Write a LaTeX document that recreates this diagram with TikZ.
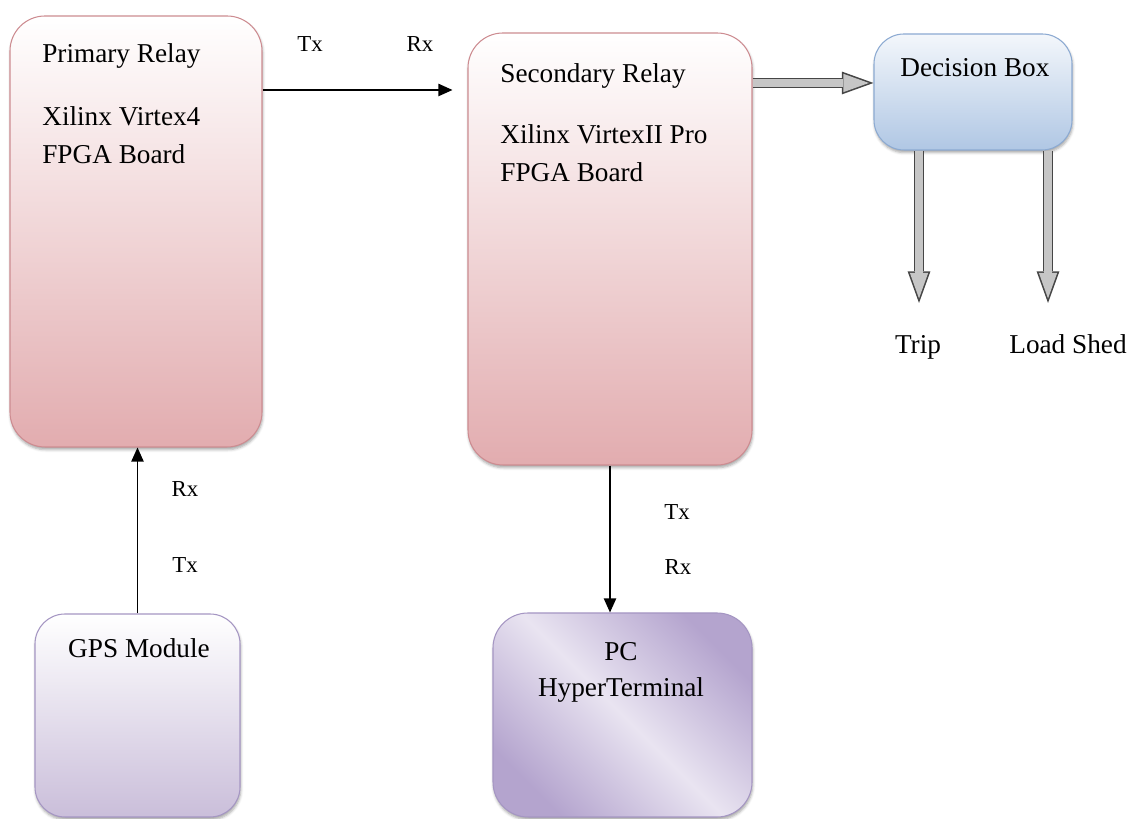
\documentclass[tikz,border=0pt]{standalone}
\usepackage{fontspec}
\setmainfont{Liberation Serif}
\usetikzlibrary{arrows.meta,shadows.blur}

\definecolor{relaypink}{RGB}{226,172,175}
\definecolor{relayline}{RGB}{205,140,145}
\definecolor{decblue}{RGB}{176,199,228}
\definecolor{decline}{RGB}{140,170,210}
\definecolor{gpslilac}{RGB}{202,190,218}
\definecolor{gpsline}{RGB}{165,150,195}
\definecolor{pcdark}{RGB}{180,164,206}
\definecolor{pclight}{RGB}{233,228,241}

\tikzset{
	box/.style={rounded corners=0.7cm, line width=0.6pt,
		blur shadow={shadow xshift=0.4pt, shadow yshift=-1.5pt, shadow blur radius=1.5pt, shadow opacity=35}},
	relay/.style={box, draw=relayline, top color=white, bottom color=relaypink},
	txt/.style={font=\fontsize{15.5pt}{22pt}\selectfont, inner sep=0pt},
	port/.style={font=\fontsize{13pt}{15pt}\selectfont, inner sep=0pt},
	link/.style={line width=0.8pt, -{Triangle[length=8pt,width=7pt]}},
	fatarrow/.style={line width=4.4pt, draw=gray!45, shorten >=2.6pt,
		-{Triangle[length=14.5pt,width=10.4pt,line width=0pt]},
		preaction={draw=gray!55!black, line width=6.2pt, shorten >=0pt,
			-{Triangle[length=18pt,width=13pt,line width=0pt]}}}
}

\begin{document}
\begin{tikzpicture}
	\useasboundingbox (0,0) rectangle (22.7,16.38);
	
	% boxes
	\node[relay, minimum width=5.04cm, minimum height=8.62cm] (pri) at (2.72,11.75) {};
	\node[relay, minimum width=5.68cm, minimum height=8.64cm] (sec) at (12.2,11.40) {};
	\node[box, rounded corners=0.6cm, draw=decline, top color=white!85!decblue, bottom color=decblue,
		minimum width=3.96cm, minimum height=2.32cm] (dec) at (19.46,14.54) {};
	\node[box, rounded corners=0.6cm, draw=gpsline, top color=white, bottom color=gpslilac,
		minimum width=4.1cm, minimum height=4.06cm] (gps) at (2.75,2.07) {};
	\node[box, draw=gpsline, left color=pcdark, right color=pcdark, middle color=pclight,
		shading angle=135, minimum width=5.18cm, minimum height=4.08cm] (pc) at (12.45,2.08) {};
	
	% box texts (multi-line nodes sit on their last baseline)
	\node[txt, anchor=base west] (pri title) at (0.84,15.12) {Primary Relay};
	\node[txt, anchor=base west, align=left] (pri board) at (0.84,13.10) {Xilinx Virtex4\\FPGA Board};
	\node[txt, anchor=base west] (sec title) at (10.0,14.72) {Secondary Relay};
	\node[txt, anchor=base west, align=left] (sec board) at (10.0,12.74) {Xilinx VirtexII Pro\\FPGA Board};
	\node[txt, anchor=base west] (dec title) at (18.0,14.84) {Decision Box};
	\node[txt, anchor=base] (gps title) at (2.78,3.22) {GPS Module};
	\node[txt, anchor=base, align=center, font=\fontsize{15.5pt}{21pt}\selectfont] (pc title) at (12.42,2.44) {PC\\HyperTerminal};
	\node[txt, anchor=base] (trip) at (18.36,9.30) {Trip};
	\node[txt, anchor=base] (shed) at (21.36,9.30) {Load Shed};
	
	% port labels
	\node[port, anchor=base] (pri tx) at (6.2,15.34) {Tx};
	\node[port, anchor=base] (sec rx) at (8.4,15.34) {Rx};
	\node[port, anchor=base] (gps rx) at (3.7,6.44) {Rx};
	\node[port, anchor=base] (gps tx) at (3.7,4.92) {Tx};
	\node[port, anchor=base] (pc tx) at (13.54,5.98) {Tx};
	\node[port, anchor=base] (pc rx) at (13.56,4.88) {Rx};
	
	\coordinate (bus) at (0,14.58);
	\coordinate (hub) at (0,14.72);
	\coordinate (trip end) at (18.38,10.32);
	\coordinate (shed end) at (20.96,10.32);
	
	% links
	\draw[link, shorten >=0.3cm] (pri.east |- bus) -- (sec.west |- bus);
	\draw[link] (gps.north) -- (gps.north |- pri.south);
	\draw[link] (sec.south) -- (sec.south |- pc.north);
	\draw[fatarrow] (sec.east |- hub) -- (dec.west |- hub);
	\draw[fatarrow] (dec.south -| trip end) -- (trip end);
	\draw[fatarrow] (dec.south -| shed end) -- (shed end);
\end{tikzpicture}
\end{document}
